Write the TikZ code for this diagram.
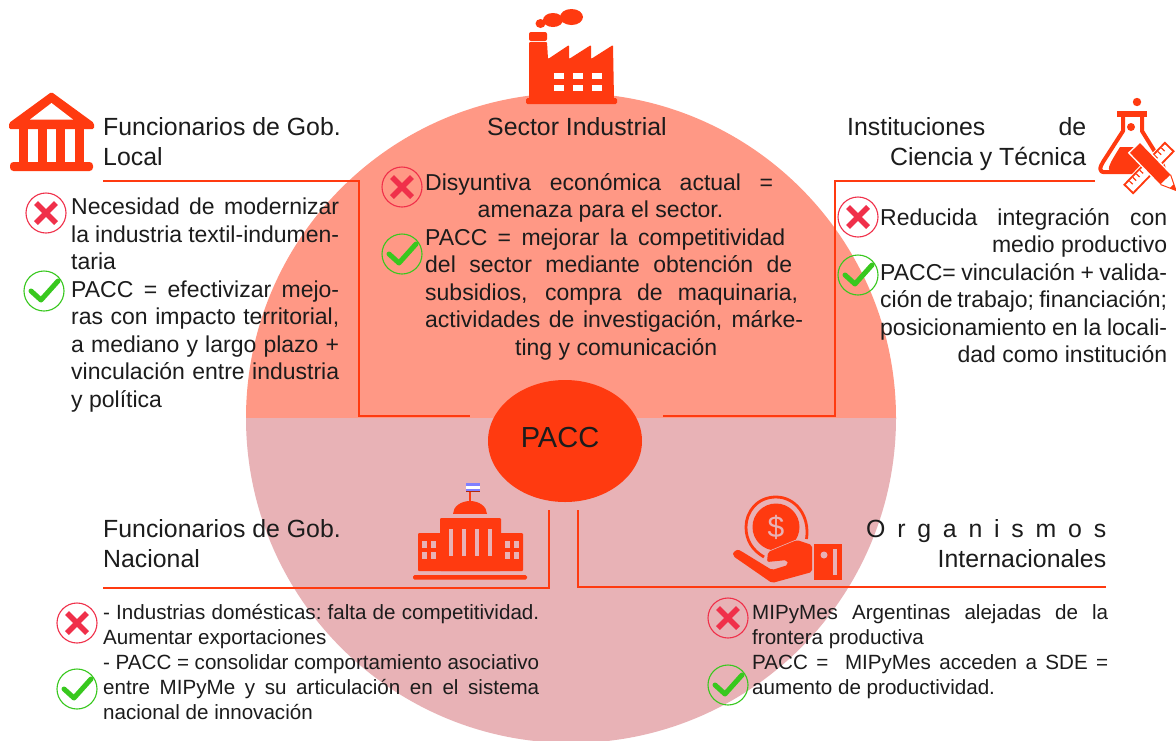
\documentclass[tikz,border=0pt]{standalone}
\usepackage{fontspec}
\setmainfont{Liberation Sans}
\usetikzlibrary{shapes.geometric}
\definecolor{ink}{HTML}{1C1C1C}
\definecolor{accent}{HTML}{FF3A10}
\definecolor{upperhalf}{HTML}{FF9885}
\definecolor{lowerhalf}{HTML}{E8B2B6}
\definecolor{badred}{HTML}{F0304A}
\definecolor{goodgreen}{HTML}{38C81E}
\newcommand{\jw}[2]{\hbox to #1{\spaceskip=.278em plus 1000pt minus .1em\xspaceskip=\spaceskip #2}}
\newcommand{\jl}[1]{\jw{\hsize}{#1}}
\newcommand{\lineset}[1]{\vbox{#1}}
\tikzset{
  head/.style={anchor=north west,inner sep=0pt,text=ink,font=\fontsize{24.85}{30}\selectfont},
  body/.style={anchor=north west,inner sep=0pt,text=ink,font=\fontsize{23}{27.5}\selectfont},
  small/.style={anchor=north west,inner sep=0pt,text=ink,font=\fontsize{20.6}{25}\selectfont},
  linkline/.style={draw=accent,line width=1.6pt},
  markbad/.style={circle,draw=badred,line width=1.1pt,minimum size=40pt,inner sep=0pt},
  markgood/.style={circle,draw=goodgreen,line width=1.1pt,minimum size=40pt,inner sep=0pt},
  crossline/.style={draw=badred,line width=5.5pt},
  tickline/.style={draw=goodgreen,line width=5pt,line cap=round,line join=round},
}
\newcommand{\badmark}[3]{\node[markbad] (#1) at (#2,#3) {};
  \draw[crossline] ([shift={(-10,-10)}]#1.center) -- ([shift={(10,10)}]#1.center);
  \draw[crossline] ([shift={(-10,10)}]#1.center) -- ([shift={(10,-10)}]#1.center);}
\newcommand{\goodmark}[3]{\node[markgood] (#1) at (#2,#3) {};
  \draw[tickline] ([shift={(-13,0)}]#1.center) -- ([shift={(-3,9)}]#1.center) -- ([shift={(14,-10)}]#1.center);}
\begin{document}
\begin{tikzpicture}[x=1pt,y=-1pt]
\useasboundingbox (0,0) rectangle (1176,740);
\fill[white] (0,0) rectangle (1176,740);
% disc
\begin{scope}
\clip (0,0) rectangle (1176,418);
\fill[upperhalf] (571,418) circle[radius=325pt];
\end{scope}
\begin{scope}
\clip (0,418) rectangle (1176,740);
\fill[lowerhalf] (571,418) circle[radius=325pt];
\end{scope}
% connectors
\node[ellipse,fill=accent,minimum width=154pt,minimum height=122pt,inner sep=0pt,font=\fontsize{29}{30}\selectfont,text=ink] (pacc) at (565,441) {\hspace{-10pt}\raisebox{7pt}{PACC}};
\coordinate (a1) at (103,181); \coordinate (a2) at (359,181); \coordinate (a3) at (359,416); \coordinate (a4) at (470,416);
\coordinate (b1) at (1095,181); \coordinate (b2) at (835,181); \coordinate (b3) at (835,416); \coordinate (b4) at (663,416);
\coordinate (c1) at (103,588); \coordinate (c2) at (549,588); \coordinate (c3) at (549,510);
\coordinate (d1) at (1106,587); \coordinate (d2) at (578,587); \coordinate (d3) at (578,510);
\draw[linkline] (a1) -- (a2) -- (a3) -- (a4);
\draw[linkline] (b1) -- (b2) -- (b3) -- (b4);
\draw[linkline] (c1) -- (c2) -- (c3);
\draw[linkline] (d1) -- (d2) -- (d3);
% headings
\node[head,text width=245pt] (h1) at (103,117) {\lineset{\jl{Funcionarios de Gob.\hfill}\jl{Local\hfill}}};
\node[head,text width=180pt,anchor=north] (h2) at (577,117) {\lineset{\jl{\hfill Sector Industrial\hfill}}};
\node[head,text width=239pt] (h3) at (847,117) {\lineset{\jl{Instituciones de}\jl{\hfill Ciencia y Técnica}}};
\node[head,text width=245pt] (h4) at (103,519) {\lineset{\jl{Funcionarios de Gob.\hfill}\jl{Nacional\hfill}}};
\node[head,text width=240pt] (h5) at (866,519) {\lineset{\jl{O r g a n i s m o s}\jl{\hfill Internacionales}}};
% bodies
\node[body,text width=268pt] (t1) at (71,198) {\lineset{\jl{Necesidad de modernizar}\jl{la industria textil-indumen-}\jl{taria\hfill}\jl{PACC = efectivizar mejo-}\jl{ras con impacto territorial,}\jl{a mediano y largo plazo +}\jl{vinculación entre industria}\jl{y política\hfill}}};
\node[body,text width=381pt] (t2) at (425,173) {\lineset{\jw{348pt}{Disyuntiva económica actual =}\jw{298pt}{\hfill amenaza para el sector.}\jw{360pt}{PACC = mejorar la competitividad}\jw{367pt}{del sector mediante obtención de}\jw{373pt}{subsidios, compra de maquinaria,}\jw{378pt}{actividades de investigación, márke-}\jw{292pt}{\hfill ting y comunicación}}};
\node[body,text width=287pt] (t3) at (880,208) {\lineset{\jl{Reducida integración con}\jl{\hfill medio productivo}\jl{PACC= vinculación + valida-}\jl{ción de trabajo; financiación;}\jl{posicionamiento en la locali-}\jl{\hfill dad como institución}}};
\node[small,text width=436pt] (t4) at (103,604) {\lineset{\jl{- Industrias domésticas: falta de competitividad.}\jl{Aumentar exportaciones\hfill}\jl{- PACC = consolidar comportamiento asociativo}\jl{entre MIPyMe y su articulación en el sistema}\jl{nacional de innovación\hfill}}};
\node[small,text width=356pt] (t5) at (752,604) {\lineset{\jl{MIPyMes Argentinas alejadas de la}\jl{frontera productiva\hfill}\jl{PACC = \ MIPyMes acceden a SDE =}\jl{aumento de productividad.\hfill}}};
% marks
\badmark{m1}{46}{213}\goodmark{m2}{44}{291}
\badmark{m3}{402}{187}\goodmark{m4}{402}{254}
\badmark{m5}{858}{217}\goodmark{m6}{858}{275}
\badmark{m7}{77}{623}\goodmark{m8}{77}{689}
\badmark{m9}{728}{618}\goodmark{m10}{728}{685}
% bank icon
\fill[accent,rounded corners=1.5pt] (51.5,92) -- (94,123) -- (94,129) -- (9,129) -- (9,123) -- cycle;
\fill[white] (51.5,103) -- (73,119.5) -- (30,119.5) -- cycle;
\foreach \cx in {19,37.5,56,75}{\fill[accent] (\cx,128) rectangle (\cx+9,163);}
\fill[accent,rounded corners=3.5pt] (10,162) rectangle (93,171);
% factory icon
\fill[accent,rounded corners=1pt] (529,42) -- (547,42) -- (548,59) -- (569,45) -- (569,59) -- (591,45) -- (591,59) -- (613,45) -- (614,99) -- (529,99) -- cycle;
\fill[accent,rounded corners=2pt] (529,32) rectangle (547,41);
\fill[accent,rounded corners=1.5pt] (526,98) rectangle (617,104);
\foreach \wx in {554,573,592}{\foreach \wy in {73,85}{\fill[white] (\wx,\wy) rectangle (\wx+10,\wy+6);}}
\fill[accent] (540.5,23.5) ellipse[x radius=5pt,y radius=4.5pt];
\fill[accent] (553,20) ellipse[x radius=10pt,y radius=7pt];
\fill[accent] (571.5,17) ellipse[x radius=11.5pt,y radius=8pt];
% science icon
\fill[accent] (1137,102) circle[radius=4.2pt];
\fill[accent] (1117,111) rectangle (1147,117);
\draw[accent,line width=4pt,line join=round] (1123,117) -- (1123,131) -- (1103,162) .. controls (1096,174) and (1103,172) .. (1112,172) -- (1155,172) .. controls (1165,172) and (1166,170) .. (1160,160) -- (1142,131) -- (1142,117);
\fill[accent] (1131,127) circle[radius=4pt];
\fill[accent] (1120,147) -- (1136,147) -- (1152,172) -- (1110,172) .. controls (1107,168) and (1110,163) .. (1120,147) -- cycle;
\begin{scope}[shift={(1149,168)},rotate=46]
\fill[white] (-31,-8) rectangle (31,8);
\fill[accent] (-30,-7) rectangle (30,7);
\fill[white] (-28,-5) rectangle (28,5);
\foreach \rt in {-23,-18,-13,-8,8,13,18,23}{\fill[accent] (\rt-0.6,-5) rectangle (\rt+0.6,-0.5);}
\end{scope}
\begin{scope}[shift={(1135,148)},rotate=-46]
\fill[white] (-1.5,-8.5) rectangle (45,8.5);
\fill[accent] (0,-7) rectangle (44,7);
\fill[white] (44,-7) -- (59,0) -- (44,7) -- cycle;
\draw[accent,line width=1pt] (44,-7) -- (59,0) -- (44,7);
\fill[accent] (53,-2.8) -- (59,0) -- (53,2.8) -- cycle;
\end{scope}
% capitol icon
\fill[accent] (468.5,490) rectangle (470.5,505);
\fill[blue!50!white] (466,483) rectangle (480,486);
\fill[white] (466,486) rectangle (480,489);
\fill[blue!50!white] (466,489) rectangle (480,490.5);
\fill[accent!70!black] (466,490.5) rectangle (480,492);
\fill[accent] (470,514) ellipse[x radius=17pt,y radius=13pt];
\fill[lowerhalf] (450,514) rectangle (491,518);
\fill[accent,rounded corners=1pt] (440,518) rectangle (501,571);
\fill[accent,rounded corners=1pt] (418,533) rectangle (523,571);
\fill[accent,rounded corners=1.5pt] (413,575) rectangle (527,579.5);
\foreach \kx in {449,462,475,488}{\fill[lowerhalf] (\kx,529) rectangle (\kx+4.2,556);}
\foreach \kx in {422,431,505,514}{\foreach \ky in {541,552}{\fill[lowerhalf] (\kx,\ky) rectangle (\kx+5,\ky+6.5);}}
% money icon
\draw[accent,line width=2.8pt] (806.5,539) .. controls (810,515) and (795,497) .. (776,497) .. controls (757,497) and (746,512) .. (746,527) .. controls (746,540) and (752,550) .. (764,557);
\fill[accent] (776,527) circle[radius=23.5pt];
\node[inner sep=0pt,text=lowerhalf,font=\fontsize{30}{30}\selectfont] (dollar) at (776,527) {\$};
\filldraw[accent,draw=lowerhalf,line width=1.5pt,rounded corners=2pt] (767,562) -- (768,552) -- (797,540) -- (812,545) -- (812,560) -- (790,560) -- cycle;
\fill[accent,rounded corners=2pt] (733,556) .. controls (733,552) and (737,549) .. (741,551) -- (772,570) -- (788,565) -- (787,560) -- (767,562) -- (768,552) -- (797,540) -- (812,545) -- (812,572) -- (772,583) -- cycle;
\fill[accent] (814,544) rectangle (842,580);
\fill[lowerhalf] (824,555) circle[radius=3.5pt];
\fill[lowerhalf] (833,549) rectangle (836.5,575);
\end{tikzpicture}
\end{document}
